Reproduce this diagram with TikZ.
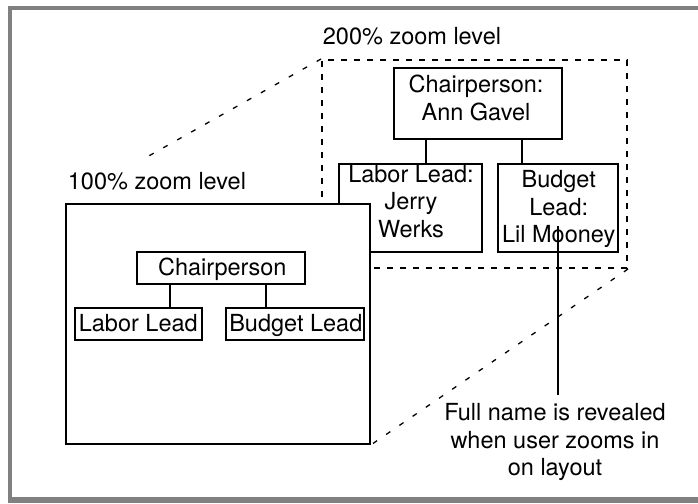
\documentclass[tikz,border=0pt]{standalone}
\usepackage{fontspec}
\setmainfont{TeX Gyre Heros}
\usetikzlibrary{calc}
\definecolor{framegray}{RGB}{128,128,128}
\begin{document}
\begin{tikzpicture}[x=1pt,y=-1pt,
  box/.style={draw, line width=1.8pt, fill=white, inner sep=0pt},
  conn/.style={line width=1.8pt},
  txt/.style={inner sep=0pt, align=center, anchor=base, font=\fontsize{23.5pt}{27.4pt}\selectfont},
  zoomframe/.style={draw, line width=2pt, dash pattern=on 6pt off 7pt, inner sep=0pt},
  zoomline/.style={line width=1.3pt, dash pattern=on 5pt off 11pt}]
\useasboundingbox (0,0) rectangle (698,503);
% outer frame
\draw[framegray, line width=3.4pt] (702,8.2) -- (9.8,8.2) -- (9.8,500);
\draw[framegray, line width=6pt] (8,500) -- (702,500);

% 200% zoom region
\node[zoomframe, minimum width=305pt, minimum height=208pt] (zoomR) at (474.5,164) {};
\node[box, minimum width=168pt, minimum height=71pt] (chairB) at (478,103.7) {};
\node[box, minimum width=143pt, minimum height=88pt] (labB) at (410.5,208) {};
\node[box, minimum width=120pt, minimum height=88pt] (budB) at (558,208) {};
\node[txt] (chairT) at (476,120) {Chairperson:\\Ann Gavel};
\node[txt] (labT) at (411,237.3) {Labor Lead:\\Jerry\\Werks};
\node[txt] (budT) at (558.7,242.7) {Budget\\Lead:\\Lil Mooney};
\draw[conn] ([xshift=-52pt]chairB.south) -- ([xshift=-52pt]chairB.south |- labB.north);
\draw[conn] ([xshift=44pt]chairB.south) -- ([xshift=44pt]chairB.south |- budB.north);

% 100% view
\node[box, minimum width=304pt, minimum height=240pt] (bigB) at (218,324) {};
\node[box, minimum width=168pt, minimum height=32pt] (chairSB) at (221,268) {};
\node[box, minimum width=127.3pt, minimum height=32.3pt] (labSB) at (138.3,323.8) {};
\node[box, minimum width=138.3pt, minimum height=32.3pt] (budSB) at (294.8,323.8) {};
\node[txt] (chairS) at (222.3,275) {Chairperson};
\node[txt] (labS) at (138.3,331.7) {Labor Lead};
\node[txt] (budS) at (295.8,331.7) {Budget Lead};
\draw[conn] ([xshift=-51pt]chairSB.south) -- ([xshift=-51pt]chairSB.south |- labSB.north);
\draw[conn] ([xshift=45pt]chairSB.south) -- ([xshift=45pt]chairSB.south |- budSB.north);

% labels
\node[txt, anchor=base west] (lvl200) at (322.7,44.3) {200\% zoom level};
\node[txt, anchor=base west] (lvl100) at (67.7,189.3) {100\% zoom level};

% zoom lines
\coordinate (d1end) at ($(zoomR.north west)!0.70!(bigB.north west)$);
\draw[zoomline] (zoomR.north west) -- (d1end);
\draw[zoomline] (zoomR.south east) -- (bigB.south east);

% annotation
\coordinate (pin) at (558,226);
\coordinate (pinEnd) at (558,395);
\draw[conn] (pin) -- (pinEnd);
\node[txt] (noteT) at (555,475.5) {Full name is revealed\\when user zooms in\\on layout};
\end{tikzpicture}
\end{document}
